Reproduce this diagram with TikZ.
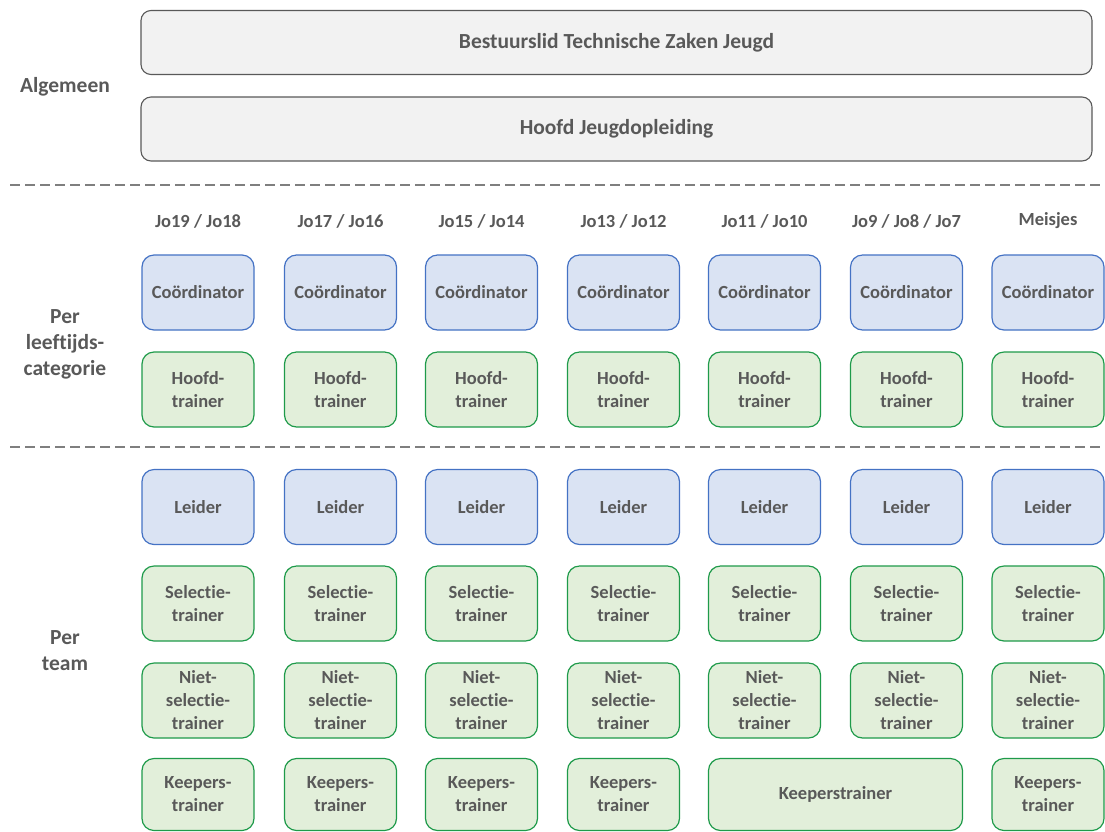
\documentclass[tikz,border=0pt]{standalone}
\usepackage{fontspec}
\setmainfont[RawFeature={-liga;-clig;-calt;-dlig}]{Carlito}
\definecolor{txt}{HTML}{595959}
\definecolor{bfill}{HTML}{DAE3F3}
\definecolor{bdraw}{HTML}{4472C4}
\definecolor{gfill}{HTML}{E2EFDA}
\definecolor{gdraw}{HTML}{1E9A4A}
\definecolor{afill}{HTML}{F2F2F2}
\definecolor{adraw}{HTML}{595959}
\definecolor{dline}{HTML}{7F7F7F}
\begin{document}
\begin{tikzpicture}[x=1pt,y=-1pt,
  every node/.style={font=\fontsize{18.5}{23}\selectfont\bfseries, text=txt, align=center, inner sep=0pt},
  big/.style={font=\fontsize{21.5}{26}\selectfont\bfseries},
  rbox/.style={rounded corners=12pt, line width=1.2pt, minimum width=112pt},
  bluebox/.style={rbox, fill=bfill, draw=bdraw, minimum height=75pt},
  greenbox/.style={rbox, fill=gfill, draw=gdraw, minimum height=75pt},
  graybox/.style={big, rounded corners=10pt, line width=1.1pt, fill=afill, draw=adraw, minimum width=951pt, minimum height=64pt},
  sep/.style={draw=dline, line width=1.3pt, dash pattern=on 10pt off 5pt}]
\useasboundingbox (0,0) rectangle (1105,831);
% top
\node[graybox] (bestuur) at (616.5,42.5) {Bestuurslid Technische Zaken Jeugd};
\node[graybox] (hoofd) at (616.5,129) {Hoofd Jeugdopleiding};
\node[big] (lalg) at (65,87) {Algemeen};
\coordinate (s1a) at (10,185);
\coordinate (s1b) at (1105,185);
\draw[sep] (s1a) -- (s1b);
\coordinate (s2a) at (10,447);
\coordinate (s2b) at (1105,447);
\draw[sep] (s2a) -- (s2b);
\node[big] (lcat) at (65,344) {Per\\leeftijds-\\categorie};
\node[big] (lteam) at (65,651) {Per\\team};
% columns
\foreach \i/\x/\h in {1/198/{Jo19 / Jo18}, 2/340.5/{Jo17 / Jo16}, 3/481.5/{Jo15 / Jo14}, 4/623.5/{Jo13 / Jo12}, 5/764.5/{Jo11 / Jo10}, 6/906.5/{Jo9 / Jo8 / Jo7}, 7/1048/Meisjes}{
  \node (h\i) at (\x,221) {\h};
  \node[bluebox] (coord\i) at (\x,292.5) {Coördinator};
  \node[greenbox] (ht\i) at (\x,389.5) {Hoofd-\\trainer};
  \node[bluebox] (leid\i) at (\x,507) {Leider};
  \node[greenbox] (sel\i) at (\x,603.5) {Selectie-\\trainer};
  \node[greenbox] (niet\i) at (\x,700.5) {Niet-\\selectie-\\trainer};
}
\foreach \i/\x in {1/198, 2/340.5, 3/481.5, 4/623.5, 7/1048}{
  \node[greenbox, minimum height=72pt] (keep\i) at (\x,794.5) {Keepers-\\trainer};
}
\node[greenbox, minimum width=254pt, minimum height=72pt] (keep56) at (835.5,794.5) {Keeperstrainer};
\end{tikzpicture}
\end{document}
